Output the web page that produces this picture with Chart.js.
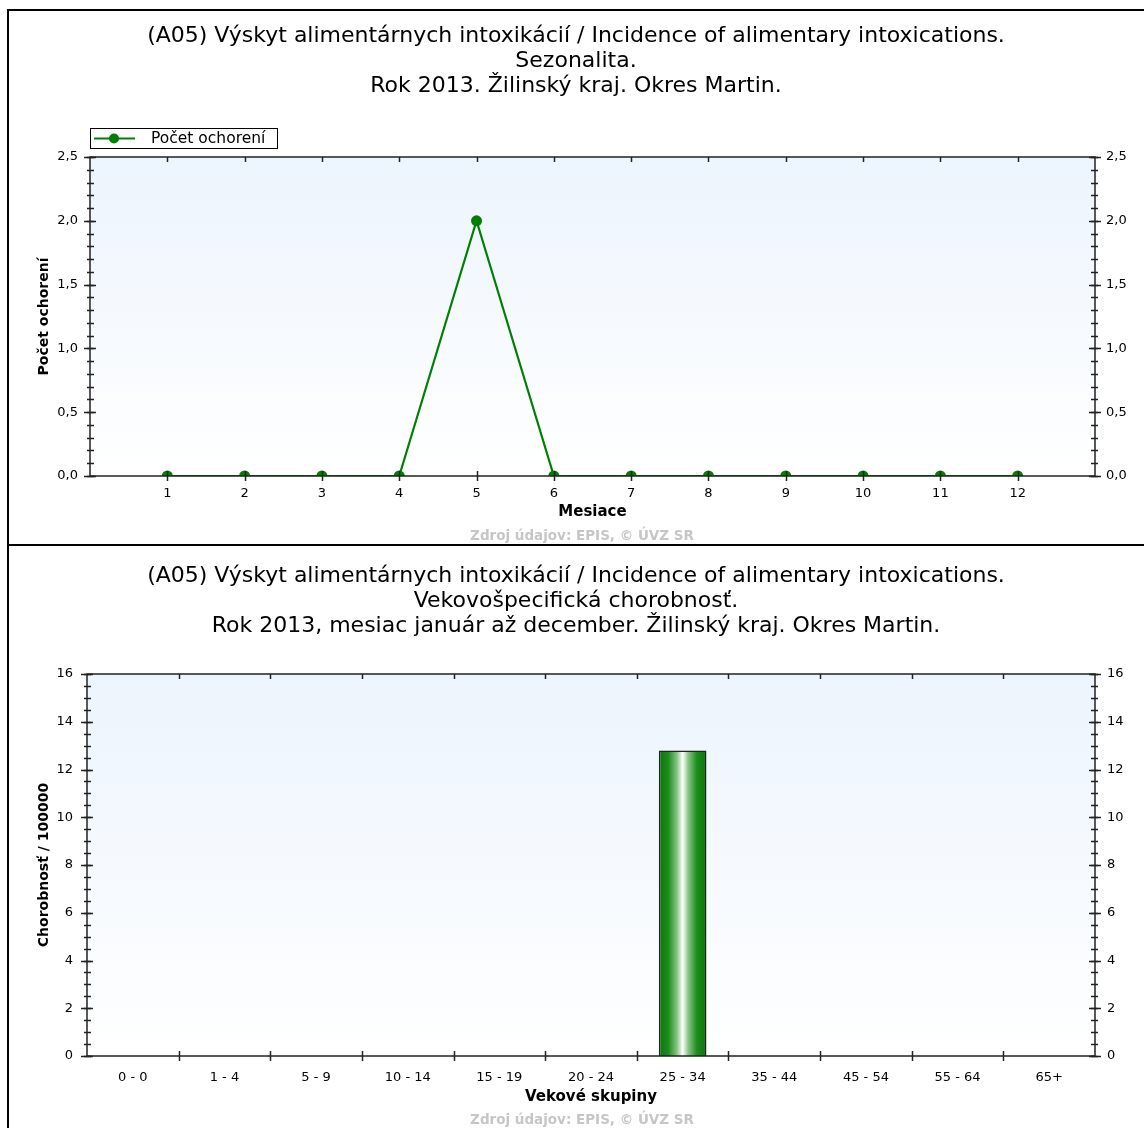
<!DOCTYPE html>
<html>
<head>
<meta charset="utf-8">
<script src="https://cdn.jsdelivr.net/npm/chart.js@4.4.1/dist/chart.umd.min.js"></script>
<style>
  body { margin: 0; background: #fff; }
  #wrap { position: relative; width: 1144px; height: 1128px; overflow: hidden; }
  .frame { position: absolute; left: 7px; top: 9px; width: 1200px; height: 1200px;
           border-left: 2px solid #000; border-top: 2px solid #000; }
  .sep { position: absolute; left: 7px; top: 544px; width: 1200px; height: 2px; background: #000; }
  canvas { position: absolute; left: 0; }
</style>
</head>
<body>
<div id="wrap">
  <div class="frame"></div>
  <div class="sep"></div>
  <canvas id="seasonChart" width="1144" height="545" style="top:0"></canvas>
  <canvas id="ageChart" width="1144" height="583" style="top:545px"></canvas>
</div>
<script>
/* ---------- DATA ---------- */
const months = [1, 2, 3, 4, 5, 6, 7, 8, 9, 10, 11, 12];
const cases = [0, 0, 0, 0, 2, 0, 0, 0, 0, 0, 0, 0];

const ageGroups = ['0 - 0', '1 - 4', '5 - 9', '10 - 14', '15 - 19', '20 - 24',
                   '25 - 34', '35 - 44', '45 - 54', '55 - 64', '65+'];
const morbidity = [0, 0, 0, 0, 0, 0, 12.8, 0, 0, 0, 0];

const seasonTitle = [
  '(A05) Výskyt alimentárnych intoxikácií / Incidence of alimentary intoxications.',
  'Sezonalita.',
  'Rok 2013. Žilinský kraj. Okres Martin.'
];
const ageTitle = [
  '(A05) Výskyt alimentárnych intoxikácií / Incidence of alimentary intoxications.',
  'Vekovošpecifická chorobnosť.',
  'Rok 2013, mesiac január až december. Žilinský kraj. Okres Martin.'
];
const sourceText = 'Zdroj údajov: EPIS, © ÚVZ SR';

const GREEN = '#008000';
const FONT = "'DejaVu Sans', Verdana, sans-serif";
const BAR_PCT = 0.52;

Chart.defaults.font.family = FONT;
Chart.defaults.font.size = 13;
Chart.defaults.color = '#000';

/* ---------- PLOT FRAME, TICKS, LEGEND, SOURCE ---------- */
const episPlugin = {
  id: 'epis',
  beforeDraw(chart) {
    const { ctx, chartArea: a } = chart;
    const g = ctx.createLinearGradient(0, a.top, 0, a.bottom);
    g.addColorStop(0, '#ecf4fd');
    g.addColorStop(1, '#ffffff');
    ctx.save();
    ctx.fillStyle = g;
    ctx.fillRect(a.left, a.top, a.right - a.left, a.bottom - a.top);
    ctx.restore();
  },
  afterDraw(chart, args, opts) {
    const { ctx, chartArea: a, scales } = chart;
    const x = scales.x, y = scales.y;
    const line = (x1, y1, x2, y2) => {
      ctx.beginPath(); ctx.moveTo(x1, y1); ctx.lineTo(x2, y2); ctx.stroke();
    };
    ctx.save();
    ctx.strokeStyle = '#222';
    ctx.lineWidth = 1.5;
    ctx.strokeRect(a.left, a.top, a.right - a.left, a.bottom - a.top);

    // y ticks, minor then major, crossing both side axes
    const n = Math.round((y.max - y.min) / opts.minorStep);
    for (let k = 0; k <= n; k++) {
      const py = Math.round(y.getPixelForValue(y.min + k * opts.minorStep)) + 0.5;
      line(a.left - 3, py, a.left + 4, py);
      line(a.right - 4, py, a.right + 3, py);
    }
    y.ticks.forEach(t => {
      const py = Math.round(y.getPixelForValue(t.value)) + 0.5;
      line(a.left - 6, py, a.left + 6, py);
      line(a.right - 6, py, a.right + 6, py);
    });

    // x ticks: bottom crossing, top inward
    let xs;
    if (opts.between) {
      xs = [];
      for (let i = 1; i < chart.data.labels.length; i++) {
        xs.push((x.getPixelForValue(i - 1) + x.getPixelForValue(i)) / 2);
      }
    } else {
      xs = opts.marks.map(v => x.getPixelForValue(v));
    }
    xs.forEach(px => {
      px = Math.round(px) + 0.5;
      line(px, a.bottom - 5, px, a.bottom + 5);
      line(px, a.top, px, a.top + 5);
    });

    // legend box
    if (opts.legend) {
      const ds = chart.data.datasets[0];
      const lx = 90.5, ly = 128.5, lw = 187, lh = 20;
      ctx.fillStyle = '#fff';
      ctx.fillRect(lx, ly, lw, lh);
      ctx.strokeStyle = '#000';
      ctx.lineWidth = 1;
      ctx.strokeRect(lx, ly, lw, lh);
      ctx.strokeStyle = ds.borderColor;
      ctx.lineWidth = 2;
      line(94, ly + 10, 135, ly + 10);
      ctx.fillStyle = ds.borderColor;
      ctx.beginPath();
      ctx.arc(114, ly + 10, 5, 0, Math.PI * 2);
      ctx.fill();
      ctx.fillStyle = '#000';
      ctx.font = '15.5px ' + FONT;
      ctx.textBaseline = 'middle';
      ctx.textAlign = 'left';
      ctx.fillText(ds.label, 151, ly + 10);
    }

    // source line
    ctx.fillStyle = '#c6c6c6';
    ctx.font = 'bold 13.5px ' + FONT;
    ctx.textAlign = 'center';
    ctx.textBaseline = 'middle';
    ctx.fillText(opts.source, opts.sourceX, opts.sourceY);
    ctx.restore();
  }
};

// cylinder look of the bars: dark green edges, white core
function cylinderFill(c) {
  const chart = c.chart;
  const x = chart.scales.x;
  if (!x || !chart.chartArea) return GREEN;
  const cx = x.getPixelForValue(c.dataIndex);
  const half = (x.width / chart.data.labels.length) * BAR_PCT / 2;
  const g = chart.ctx.createLinearGradient(cx - half, 0, cx + half, 0);
  g.addColorStop(0, '#0a760a');
  g.addColorStop(0.2, '#1c8c1c');
  g.addColorStop(0.38, '#86c486');
  g.addColorStop(0.5, '#ffffff');
  g.addColorStop(0.62, '#86c486');
  g.addColorStop(0.8, '#1c8c1c');
  g.addColorStop(1, '#0a760a');
  return g;
}

const fixWidth = w => scale => { scale.width = w; };
const fixHeight = h => scale => { scale.height = h; };
const comma = v => v.toFixed(1).replace('.', ',');

/* ---------- LINE CHART: SEASONALITY ---------- */
new Chart(document.getElementById('seasonChart'), {
  type: 'line',
  data: {
    datasets: [{
      label: 'Počet ochorení',
      data: months.map((m, i) => ({ x: m, y: cases[i] })),
      borderColor: GREEN,
      backgroundColor: GREEN,
      borderWidth: 2.2,
      pointRadius: 5.5,
      pointBackgroundColor: GREEN,
      pointBorderWidth: 0,
      tension: 0,
      clip: 0
    }]
  },
  options: {
    responsive: false,
    animation: false,
    devicePixelRatio: 1,
    layout: { padding: { left: 8, right: 0, top: 0, bottom: 0 } },
    plugins: {
      legend: { display: false },
      tooltip: { enabled: false },
      title: {
        display: true,
        text: seasonTitle,
        color: '#000',
        font: { size: 22, weight: 'normal', lineHeight: 25 / 22 },
        padding: { top: 23.5, bottom: 58.5 }
      },
      epis: { minorStep: 0.1, marks: months, legend: true,
              source: sourceText, sourceX: 582, sourceY: 536 }
    },
    scales: {
      x: {
        type: 'linear',
        min: 0, max: 13,
        afterFit: fixHeight(69),
        grid: { display: false, drawTicks: false },
        border: { display: false },
        ticks: {
          stepSize: 1, autoSkip: false, padding: 10, maxRotation: 0,
          callback: v => months.includes(v) ? String(v) : ''
        },
        title: { display: true, text: 'Mesiace', font: { size: 15, weight: 'bold' },
                 padding: { top: 0, bottom: 24 } }
      },
      y: {
        position: 'left',
        min: 0, max: 2.5,
        afterFit: fixWidth(82),
        grid: { display: false, drawTicks: false },
        border: { display: false },
        ticks: { stepSize: 0.5, padding: 12, callback: comma },
        title: { display: true, text: 'Počet ochorení', font: { size: 14, weight: 'bold' },
                 padding: { top: 27.6, bottom: 0 } }
      },
      y2: {
        position: 'right',
        min: 0, max: 2.5,
        afterFit: fixWidth(49),
        grid: { display: false, drawTicks: false },
        border: { display: false },
        ticks: { stepSize: 0.5, padding: 11, callback: comma }
      }
    }
  },
  plugins: [episPlugin]
});

/* ---------- BAR CHART: AGE-SPECIFIC MORBIDITY ---------- */
new Chart(document.getElementById('ageChart'), {
  type: 'bar',
  data: {
    labels: ageGroups,
    datasets: [{
      label: 'Chorobnosť / 100000',
      data: morbidity,
      backgroundColor: cylinderFill,
      borderColor: '#222',
      borderWidth: 1.5,
      categoryPercentage: 1,
      barPercentage: BAR_PCT
    }]
  },
  options: {
    responsive: false,
    animation: false,
    devicePixelRatio: 1,
    layout: { padding: { left: 8, right: 0, top: 0, bottom: 0 } },
    plugins: {
      legend: { display: false },
      tooltip: { enabled: false },
      title: {
        display: true,
        text: ageTitle,
        color: '#000',
        font: { size: 22, weight: 'normal', lineHeight: 25 / 22 },
        padding: { top: 18.5, bottom: 35.5 }
      },
      epis: { minorStep: 0.5, between: true,
              source: sourceText, sourceX: 582, sourceY: 575 }
    },
    scales: {
      x: {
        afterFit: fixHeight(72),
        grid: { display: false, drawTicks: false },
        border: { display: false },
        ticks: { padding: 14, maxRotation: 0, autoSkip: false },
        title: { display: true, text: 'Vekové skupiny', font: { size: 15, weight: 'bold' },
                 padding: { top: 0, bottom: 22 } }
      },
      y: {
        position: 'left',
        min: 0, max: 16,
        afterFit: fixWidth(79),
        grid: { display: false, drawTicks: false },
        border: { display: false },
        ticks: { stepSize: 2, padding: 14 },
        title: { display: true, text: 'Chorobnosť / 100000', font: { size: 14, weight: 'bold' },
                 padding: { top: 27.6, bottom: 0 } }
      },
      y2: {
        position: 'right',
        min: 0, max: 16,
        afterFit: fixWidth(49),
        grid: { display: false, drawTicks: false },
        border: { display: false },
        ticks: { stepSize: 2, padding: 12 }
      }
    }
  },
  plugins: [episPlugin]
});
</script>
</body>
</html>
